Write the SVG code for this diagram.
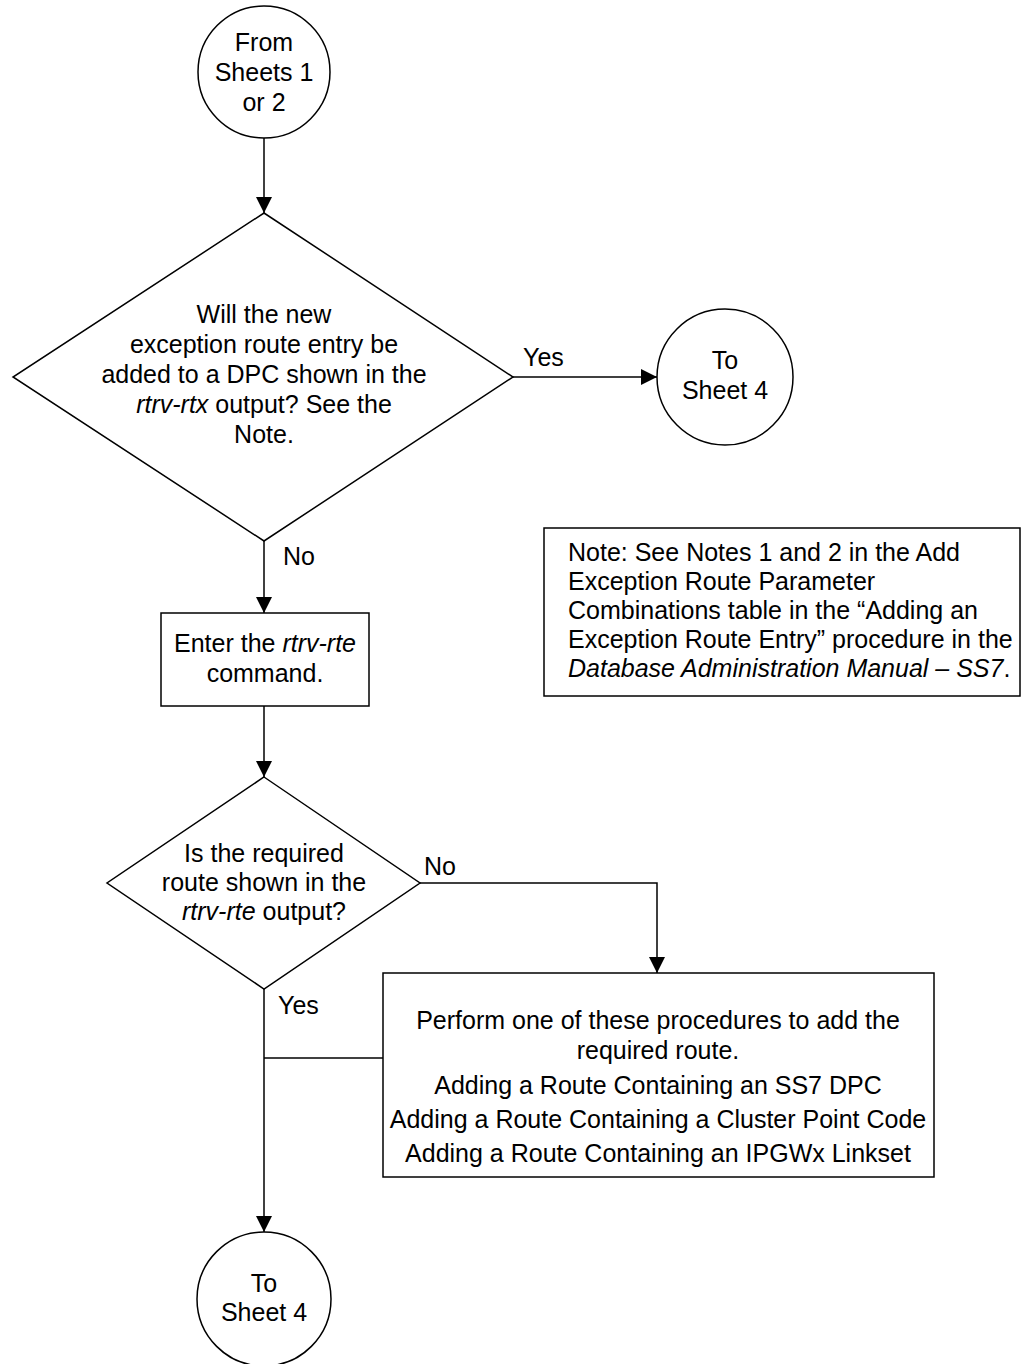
<svg xmlns="http://www.w3.org/2000/svg" width="1023" height="1364" viewBox="0 0 1023 1364">
<style>
.s{fill:#fff;stroke:#000;stroke-width:1.5}
.c{fill:none;stroke:#000;stroke-width:1.5}
text{font-family:"Liberation Sans",Arial,sans-serif;font-size:25px;fill:#000}
.m{text-anchor:middle}
.i{font-style:italic}
</style>
<defs>
<marker id="ah" markerUnits="userSpaceOnUse" markerWidth="16" markerHeight="16" viewBox="0 0 16 16" refX="16" refY="8" orient="auto">
<path d="M0,0 L16,8 L0,16 Z" fill="#000"/>
</marker>
</defs>
<rect width="1023" height="1364" fill="#fff"/>
<g id="connectors">
<line class="c" x1="264" y1="138" x2="264" y2="213" marker-end="url(#ah)"/>
<line class="c" x1="513" y1="377" x2="657" y2="377" marker-end="url(#ah)"/>
<line class="c" x1="264" y1="541" x2="264" y2="613" marker-end="url(#ah)"/>
<line class="c" x1="264" y1="706" x2="264" y2="777" marker-end="url(#ah)"/>
<polyline class="c" points="420,883 657,883 657,973" marker-end="url(#ah)"/>
<line class="c" x1="264" y1="989" x2="264" y2="1232" marker-end="url(#ah)"/>
<line class="c" x1="383" y1="1058" x2="264" y2="1058"/>
<text x="523" y="366">Yes</text>
<text x="283" y="565">No</text>
<text x="424" y="875">No</text>
<text x="278" y="1014">Yes</text>
</g>
<g id="start">
<circle class="s" cx="264" cy="72" r="66"/>
<text class="m" x="264" y="51">From</text>
<text class="m" x="264" y="81">Sheets 1</text>
<text class="m" x="264" y="111">or 2</text>
</g>
<g id="decision1">
<polygon class="s" points="264,213 513,377 264,541 13,377"/>
<text class="m" x="264" y="323">Will the new</text>
<text class="m" x="264" y="353">exception route entry be</text>
<text class="m" x="264" y="383">added to a DPC shown in the</text>
<text class="m" x="264" y="413"><tspan class="i">rtrv-rtx</tspan> output? See the</text>
<text class="m" x="264" y="443">Note.</text>
</g>
<g id="toSheet4a">
<circle class="s" cx="725" cy="377" r="68"/>
<text class="m" x="725" y="369">To</text>
<text class="m" x="725" y="399">Sheet 4</text>
</g>
<g id="note">
<rect class="s" x="544" y="528" width="476" height="168"/>
<text x="568" y="561">Note: See Notes 1 and 2 in the Add</text>
<text x="568" y="590">Exception Route Parameter</text>
<text x="568" y="619">Combinations table in the “Adding an</text>
<text x="568" y="648">Exception Route Entry” procedure in the</text>
<text x="568" y="677"><tspan class="i">Database Administration Manual – SS7</tspan>.</text>
</g>
<g id="enterCmd">
<rect class="s" x="161" y="613" width="208" height="93"/>
<text class="m" x="265" y="652">Enter the <tspan class="i">rtrv-rte</tspan></text>
<text class="m" x="265" y="682">command.</text>
</g>
<g id="decision2">
<polygon class="s" points="264,777 420,883 264,989 107,883"/>
<text class="m" x="264" y="862">Is the required</text>
<text class="m" x="264" y="891">route shown in the</text>
<text class="m" x="264" y="920"><tspan class="i">rtrv-rte</tspan> output?</text>
</g>
<g id="addRoute">
<rect class="s" x="383" y="973" width="551" height="204"/>
<text class="m" x="658" y="1029">Perform one of these procedures to add the</text>
<text class="m" x="658" y="1059">required route.</text>
<text class="m" x="658" y="1094">Adding a Route Containing an SS7 DPC</text>
<text class="m" x="658" y="1128">Adding a Route Containing a Cluster Point Code</text>
<text class="m" x="658" y="1162">Adding a Route Containing an IPGWx Linkset</text>
</g>
<g id="toSheet4b">
<circle class="s" cx="264" cy="1299" r="67"/>
<text class="m" x="264" y="1292">To</text>
<text class="m" x="264" y="1321">Sheet 4</text>
</g>
</svg>
